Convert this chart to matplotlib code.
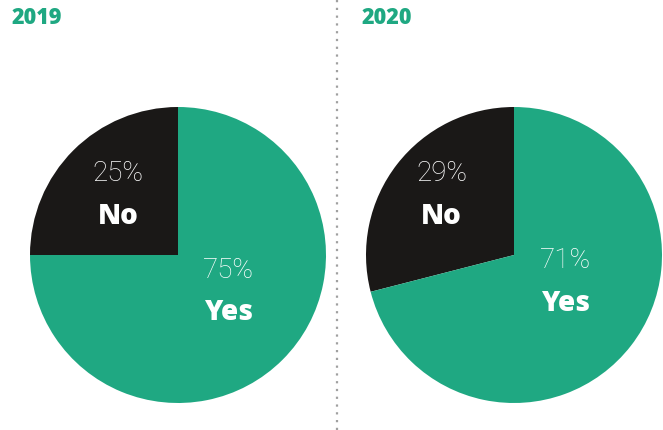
import matplotlib.pyplot as plt
from matplotlib.lines import Line2D

# data
years = ['2019', '2020']
no_pct = [25, 29]
yes_pct = [75, 71]
labels = ['No', 'Yes']

GREEN = '#1fa882'
BLACK = '#1a1817'

plt.rcParams['font.family'] = ['Roboto', 'DejaVu Sans']

fig = plt.figure(figsize=(6.63, 4.31), dpi=100)
W, H = 663, 431

# pie boxes in pixels (left, top, size)
boxes = [(30, 108, 296), (366, 108, 296)]
# label anchors in data coords
no_pos = [(-0.405, 0.56), (-0.49, 0.56)]
yes_pos = [(0.34, -0.095), (0.35, -0.03)]
title_x = [12, 362]

for i, year in enumerate(years):
    left, top, size = boxes[i]
    ax = fig.add_axes([left / W, (H - top - size) / H, size / W, size / H])
    ax.pie([no_pct[i], yes_pct[i]], colors=[BLACK, GREEN], startangle=90,
           counterclock=True, radius=1, wedgeprops=dict(linewidth=0))
    ax.set_xlim(-1, 1)
    ax.set_ylim(-1, 1)
    ax.axis('off')

    for (x, y), pct, lab in [(no_pos[i], no_pct[i], labels[0]),
                             (yes_pos[i], yes_pct[i], labels[1])]:
        ax.text(x, y, f'{pct}%', color='white', fontsize=20, fontweight='light',
                ha='center', va='center')
        ax.text(x, y - 0.29, lab, color='white', fontsize=20, fontweight='black',
                family=['Open Sans', 'DejaVu Sans'], ha='center', va='center')

    fig.text(title_x[i] / W, 1 - 18 / H, year, color=GREEN, fontsize=15.5,
             fontweight='black', family=['Open Sans', 'DejaVu Sans'],
             ha='left', va='center')

# dotted divider
fig.add_artist(Line2D([337 / W, 337 / W], [0, 1], transform=fig.transFigure,
                      color='#a0a0a0', linestyle=(0, (1, 2.5)), linewidth=1.6))

fig.savefig('out.png', dpi=100)
